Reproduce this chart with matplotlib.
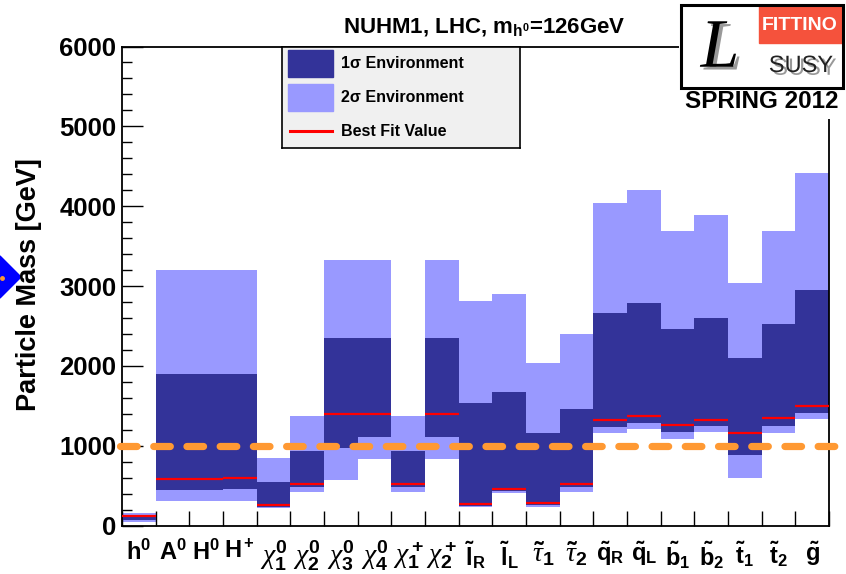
import numpy as np
import matplotlib
matplotlib.use("Agg")
import matplotlib.pyplot as plt
import matplotlib.patheffects as pe
from matplotlib.patches import Rectangle, Polygon
from matplotlib.lines import Line2D

plt.rcParams['font.family'] = ['Liberation Sans', 'DejaVu Sans']
plt.rcParams['mathtext.fontset'] = 'custom'
plt.rcParams['mathtext.rm'] = 'Liberation Sans:bold'
plt.rcParams['mathtext.bf'] = 'Liberation Sans:bold'
plt.rcParams['mathtext.it'] = 'Liberation Serif:italic'

# particle labels
labels = [r'$\mathbf{h^0}$', r'$\mathbf{A^0}$', r'$\mathbf{H^0}$', r'$\mathbf{H^+}$',
          r'$\chi^0_1$', r'$\chi^0_2$', r'$\chi^0_3$', r'$\chi^0_4$',
          r'$\chi^+_1$', r'$\chi^+_2$',
          r'$\tilde{\mathbf{l}}_\mathbf{R}$', r'$\tilde{\mathbf{l}}_\mathbf{L}$',
          r'$\tilde{\tau}_1$', r'$\tilde{\tau}_2$',
          r'$\tilde{\mathbf{q}}_\mathbf{R}$', r'$\tilde{\mathbf{q}}_\mathbf{L}$',
          r'$\tilde{\mathbf{b}}_\mathbf{1}$', r'$\tilde{\mathbf{b}}_\mathbf{2}$',
          r'$\tilde{\mathbf{t}}_\mathbf{1}$', r'$\tilde{\mathbf{t}}_\mathbf{2}$',
          r'$\tilde{\mathbf{g}}$']

# mass ranges [GeV]
lo2 = [40, 303, 303, 311, 215, 424, 570, 833, 424, 833, 228, 403, 228, 424,
       1163, 1213, 1084, 1171, 599, 1155, 1330]
lo1 = [70, 441, 441, 453, 236, 478, 967, 1105, 478, 1105, 245, 436, 261, 478,
       1230, 1284, 1167, 1242, 879, 1246, 1409]
best = [120, 586, 586, 599, 253, 516, 1393, 1393, 516, 1393, 269, 461, 286, 516,
        1318, 1372, 1259, 1318, 1163, 1347, 1501]
hi1 = [135, 1894, 1894, 1894, 545, 933, 2349, 2349, 933, 2349, 1531, 1672, 1155, 1455,
       2666, 2783, 2458, 2596, 2094, 2524, 2946]
hi2 = [160, 3200, 3200, 3200, 845, 1372, 3326, 3326, 1372, 3326, 2816, 2904, 2035, 2403,
       4044, 4199, 3689, 3889, 3042, 3693, 4420]
ref_line = 1000

W, H = 846, 574
fig = plt.figure(figsize=(W / 100, H / 100), dpi=100)
ax = fig.add_axes([122 / W, 1 - 525.5 / H, 707 / W, 479 / H])

n = len(labels)
x = np.arange(n)
lo2 = np.array(lo2); lo1 = np.array(lo1); hi1 = np.array(hi1); hi2 = np.array(hi2)

ax.bar(x, hi2 - lo2, bottom=lo2, width=1.0, align='edge', color='#9999ff',
       linewidth=0, zorder=1)
ax.bar(x, hi1 - lo1, bottom=lo1, width=1.0, align='edge', color='#333399',
       linewidth=0, zorder=2)
ax.hlines(best, x, x + 1, colors='#ff0000', linewidth=1.6, zorder=3)

ax.plot([-0.06, 21.5], [ref_line, ref_line], color='#ff9933', linewidth=5.2,
        dashes=(2.3, 2.3), dash_capstyle='round', solid_capstyle='round',
        clip_on=False, zorder=4)

ax.set_xlim(0, n)
ax.set_ylim(0, 6000)

ax.set_xticks(np.arange(0, n + 1))
ax.set_xticklabels([])
ax.set_xticks(x + 0.5, minor=True)
ax.set_xticklabels(labels, minor=True, fontsize=17)
# greek symbols are drawn larger, like the symbol font of the original
for i, t in enumerate(ax.get_xticklabels(minor=True)):
    if '\\chi' in labels[i] or '\\tau' in labels[i]:
        t.set_fontsize(20)
ax.tick_params(axis='x', which='major', direction='in', length=11, width=1.0,
               top=False, bottom=True)
ax.tick_params(axis='x', which='minor', length=0, pad=10)

ax.set_yticks(np.arange(0, 6001, 1000))
ax.set_yticks(np.arange(0, 6001, 200), minor=True)
ax.tick_params(axis='y', which='major', direction='in', length=15, width=1.0,
               labelsize=18.5, pad=4, right=False)
ax.tick_params(axis='y', which='minor', direction='in', length=7.5, width=1.0,
               right=False)
for t in ax.get_yticklabels():
    t.set_fontweight('bold')
for s in ax.spines.values():
    s.set_linewidth(1.3)

fig.text(29 / W, 1 - 285 / H, 'Particle Mass [GeV]', rotation=90, ha='center',
         va='center', fontsize=19.5, fontweight='bold')

fig.text(343 / W, 1 - 32 / H, r'NUHM1, LHC, m$_{\mathbf{h}^{\mathbf{0}}}$=126GeV',
         ha='left', va='baseline', fontsize=16, fontweight='bold')

# legend box
lg = fig.add_axes([282 / W, 1 - 148 / H, 238 / W, 101 / H])
lg.set_facecolor('#f0f0f0')
lg.set_xticks([]); lg.set_yticks([])
lg.set_xlim(0, 238); lg.set_ylim(101, 0)
for s in lg.spines.values():
    s.set_linewidth(1.2)
lg.add_patch(Rectangle((6, 3), 45, 27, color='#333399'))
lg.add_patch(Rectangle((6, 37), 45, 27, color='#9999ff'))
lg.plot([8, 50], [84, 84], color='#ff0000', linewidth=2.2)
lg.text(59, 17, '1σ Environment', va='center', fontsize=11.5, fontweight='bold')
lg.text(59, 50, '2σ Environment', va='center', fontsize=11.5, fontweight='bold')
lg.text(59, 84, 'Best Fit Value', va='center', fontsize=11.5, fontweight='bold')

# logo
lo = fig.add_axes([679 / W, 1 - 119 / H, 167 / W, 119 / H])
lo.set_xlim(679, 846); lo.set_ylim(119, 0)
lo.axis('off')
lo.add_patch(Rectangle((679, 0), 167, 119, color='white', zorder=0))
lo.add_patch(Rectangle((681, 5), 162, 83, fill=False, edgecolor='black',
                       linewidth=2.2, zorder=3))
lo.add_patch(Rectangle((759, 6), 83, 37, color='#f5523c', zorder=1))
lo.text(800, 25, 'FITTINO', color='white', ha='center', va='center', fontsize=14,
        fontweight='bold')
shadow = [pe.SimplePatchShadow(offset=(2.5, -2), shadow_rgbFace='#999999', alpha=1.0),
          pe.Normal()]
lo.text(720, 50, 'L', color='black', ha='center', va='center', fontsize=50,
        family='Liberation Serif', style='italic', path_effects=shadow)
lo.text(801, 66, 'SUSY', color='#222222', ha='center', va='center', fontsize=17,
        path_effects=shadow)
lo.text(762, 102, 'SPRING 2012', color='black', ha='center', va='center',
        fontsize=17.5, fontweight='bold')

# marker at the left border
fig.add_artist(Polygon([(-21 / W, 1 - 277 / H), (0, 1 - 256 / H),
                        (21 / W, 1 - 277 / H), (0, 1 - 298 / H)],
                       closed=True, color='#0000ff', transform=fig.transFigure))
fig.add_artist(Line2D([1.5 / W], [1 - 278 / H], marker='o', markersize=2.5,
                      color='#ff9933', transform=fig.transFigure))

fig.savefig('out.png', dpi=100)
